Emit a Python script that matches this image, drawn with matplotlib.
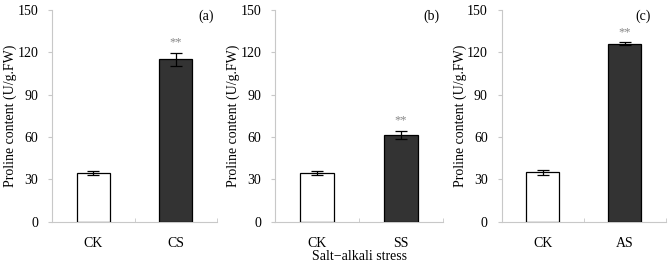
import matplotlib.pyplot as plt
import numpy as np

plt.rcParams['font.family'] = ['Liberation Serif', 'DejaVu Serif']

categories = [['CK', 'CS'], ['CK', 'SS'], ['CK', 'AS']]
means = [[34.5, 115.0], [34.5, 61.5], [35.0, 126.0]]
errors = [[1.5, 4.5], [1.5, 3.0], [1.5, 1.2]]
panel_labels = ['(a)', '(b)', '(c)']
yticks = [0, 30, 60, 90, 120, 150]

fig = plt.figure(figsize=(6.68, 2.67), dpi=100)
lefts = [0.078, 0.412, 0.751]
widths = [0.247, 0.251, 0.246]
label_x = [0.98, 0.98, 0.91]
axis_col = '#c8c8c8'

for i in range(3):
    ax = fig.add_axes([lefts[i], 0.169, widths[i], 0.794])
    x = np.arange(2)
    ax.bar(x, means[i], 0.4, color=['white', '#333333'], edgecolor='black',
           linewidth=0.9, yerr=errors[i], capsize=4,
           error_kw=dict(elinewidth=0.9, capthick=0.9, ecolor='black'), zorder=3)
    ax.text(1, means[i][1] + errors[i][1] + 3, '**', ha='center', va='bottom',
            fontsize=9, color='#888888')
    ax.text(label_x[i], 1.0, panel_labels[i], transform=ax.transAxes, ha='right', va='top',
            fontsize=10)
    ax.set_xlim(-0.5, 1.5)
    ax.set_ylim(0, 150)
    ax.set_yticks(yticks)
    ax.set_xticks(x)
    ax.set_xticklabels(categories[i], fontsize=10)
    ax.set_xticks([-0.5, 0.5, 1.5], minor=True)
    ax.tick_params(axis='x', which='major', length=0, pad=11)
    ax.tick_params(axis='x', which='minor', length=3, direction='in', color=axis_col)
    ax.tick_params(axis='y', length=3, direction='out', color=axis_col, labelsize=10, pad=7)
    for s in ['top', 'right']:
        ax.spines[s].set_visible(False)
    for s in ['left', 'bottom']:
        ax.spines[s].set_color(axis_col)
        ax.spines[s].set_linewidth(0.8)
    ax.set_ylabel('Proline content (U/g.FW)', fontsize=10, labelpad=0)
    if i == 1:
        ax.set_xlabel('Salt\u2212alkali stress', fontsize=10, labelpad=0)

plt.savefig('out.png', dpi=100)
